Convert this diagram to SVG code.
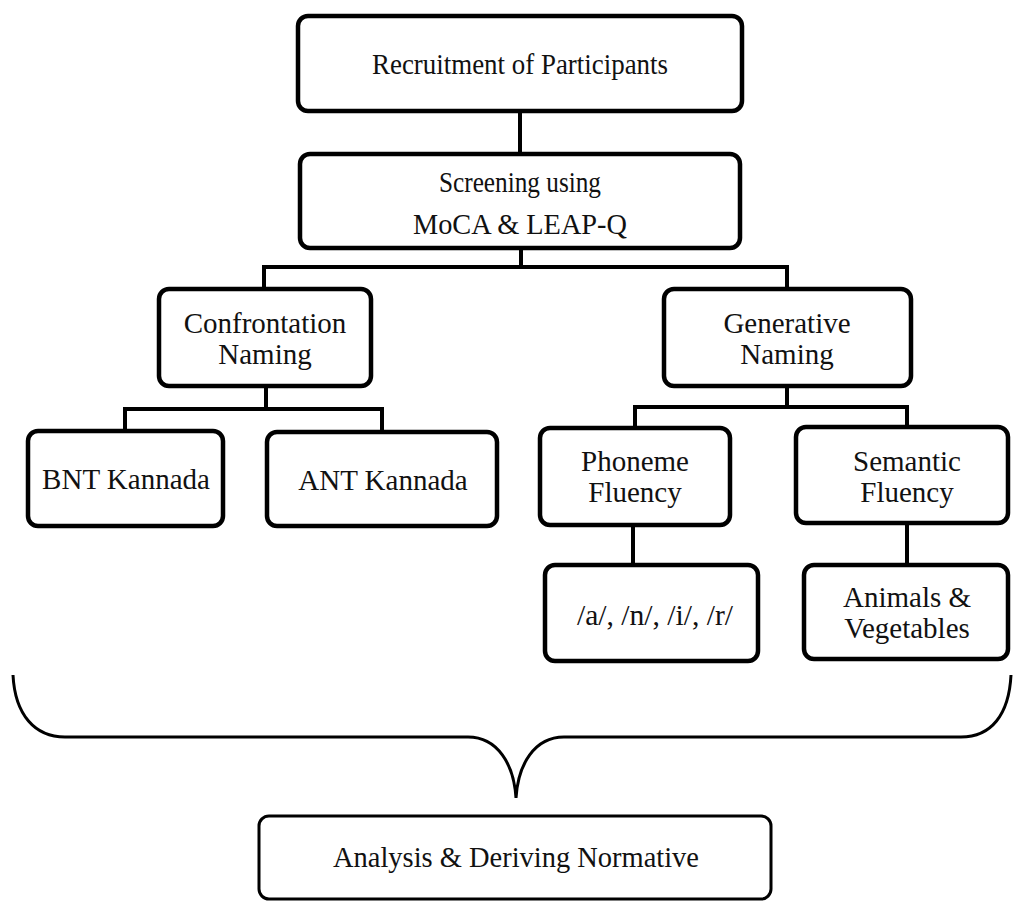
<svg xmlns="http://www.w3.org/2000/svg" width="1013" height="902" viewBox="0 0 1013 902">
<style>
.box{fill:#fff;stroke:#000;stroke-width:4.5}
.t{font-family:"Liberation Serif","Times New Roman",serif;font-size:29px;fill:#111;text-anchor:middle}
.c{fill:none;stroke:#000;stroke-width:4}
</style>
<rect width="1013" height="902" fill="#fff"/>
<g id="connectors">
<path class="c" d="M520 111V154"/>
<path class="c" d="M521 248V267M262 267H789M264 267V289M787 267V289"/>
<path class="c" d="M266 386V409M123 409H384M125 409V431M382 409V432"/>
<path class="c" d="M787 386V407M633 407H909M635 407V428M907 407V427"/>
<path class="c" d="M633 525V565M907 523V565"/>
<path fill="none" stroke="#000" stroke-width="3" d="M13 675C15 715 35 737 65 737L468 737C498 737 514 765 516 798C518 765 534 737 564 737L961 737C991 737 1009 715 1011 675"/>
</g>
<g id="recruit"><rect class="box" x="298" y="16" width="444" height="95" rx="10"/><text class="t" x="520" y="74" textLength="296" lengthAdjust="spacingAndGlyphs">Recruitment of Participants</text></g>
<g id="screening"><rect class="box" x="300" y="154" width="440" height="94" rx="10"/><text class="t" x="520" y="192" textLength="162" lengthAdjust="spacingAndGlyphs">Screening using</text><text class="t" x="520" y="234" textLength="214" lengthAdjust="spacingAndGlyphs">MoCA &amp; LEAP-Q</text></g>
<g id="confrontation"><rect class="box" x="159" y="289" width="212" height="97" rx="10"/><text class="t" x="265" y="333">Confrontation</text><text class="t" x="265" y="364">Naming</text></g>
<g id="generative"><rect class="box" x="664" y="289" width="247" height="97" rx="10"/><text class="t" x="787" y="333">Generative</text><text class="t" x="787" y="364">Naming</text></g>
<g id="bnt"><rect class="box" x="28" y="431" width="195" height="95" rx="10"/><text class="t" x="126" y="489">BNT Kannada</text></g>
<g id="ant"><rect class="box" x="267" y="432" width="230" height="94" rx="10"/><text class="t" x="383" y="490">ANT Kannada</text></g>
<g id="phoneme"><rect class="box" x="540" y="428" width="190" height="97" rx="10"/><text class="t" x="635" y="471">Phoneme</text><text class="t" x="635" y="502">Fluency</text></g>
<g id="semantic"><rect class="box" x="796" y="427" width="212" height="96" rx="10"/><text class="t" x="907" y="471">Semantic</text><text class="t" x="907" y="502">Fluency</text></g>
<g id="phonemes"><rect class="box" x="545" y="565" width="213" height="96" rx="10"/><text class="t" x="655" y="625" textLength="156" lengthAdjust="spacingAndGlyphs">/a/, /n/, /i/, /r/</text></g>
<g id="animals"><rect class="box" x="804" y="565" width="204" height="94" rx="10"/><text class="t" x="907" y="607">Animals &amp;</text><text class="t" x="907" y="638">Vegetables</text></g>
<g id="analysis"><rect class="box" style="stroke-width:3" x="259" y="816" width="512" height="83" rx="10"/><text class="t" x="516" y="867" textLength="366" lengthAdjust="spacingAndGlyphs">Analysis &amp; Deriving Normative</text></g>
</svg>
